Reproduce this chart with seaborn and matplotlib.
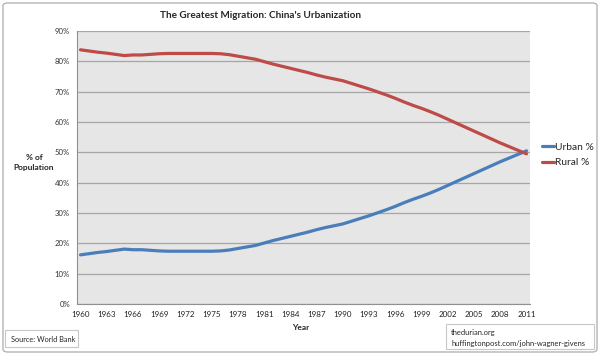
import pandas as pd
import numpy as np
import seaborn as sns
import matplotlib.pyplot as plt
from matplotlib.patches import FancyBboxPatch

# data (World Bank, China)
years = list(range(1960, 2012))
urban = [16.2, 16.6, 17.0, 17.3, 17.7, 18.1, 17.9, 17.9, 17.7, 17.5,
         17.4, 17.4, 17.4, 17.4, 17.4, 17.4, 17.5, 17.8, 18.3, 18.8,
         19.3, 20.1, 20.9, 21.6, 22.3, 23.0, 23.7, 24.5, 25.2, 25.8,
         26.4, 27.3, 28.2, 29.1, 30.1, 31.1, 32.2, 33.4, 34.5, 35.5,
         36.6, 37.8, 39.1, 40.4, 41.7, 43.0, 44.3, 45.6, 46.9, 48.1,
         49.3, 50.5]
rural = [83.8, 83.4, 83.0, 82.7, 82.3, 81.9, 82.1, 82.1, 82.3, 82.5,
         82.6, 82.6, 82.6, 82.6, 82.6, 82.6, 82.5, 82.2, 81.7, 81.2,
         80.7, 79.9, 79.1, 78.4, 77.7, 77.0, 76.3, 75.5, 74.8, 74.2,
         73.6, 72.7, 71.8, 70.9, 69.9, 68.9, 67.8, 66.6, 65.5, 64.5,
         63.4, 62.2, 60.9, 59.6, 58.3, 57.0, 55.7, 54.4, 53.1, 51.9,
         50.7, 49.5]
series_names = ['Urban %', 'Rural %']
series_colors = ['#4a7ebb', '#be4b48']
y_ticks = [0, 10, 20, 30, 40, 50, 60, 70, 80, 90]
x_labels = [y for y in years if (y - 1960) % 3 == 0]

sns.set_theme(style='white')
plt.rcParams['font.family'] = ['Lato', 'DejaVu Sans']

df = pd.DataFrame({'Year': years * 2,
                   'Value': urban + rural,
                   'Series': [series_names[0]] * len(years) + [series_names[1]] * len(years)})

W, H = 600, 355
fig = plt.figure(figsize=(6, 3.55), dpi=100)
ax = fig.add_axes([77 / W, 1 - 304 / H, (530 - 77) / W, (304 - 31) / H])
ax.set_facecolor('#e6e6e6')

sns.lineplot(data=df, x='Year', y='Value', hue='Series', hue_order=series_names,
             palette=dict(zip(series_names, series_colors)), linewidth=2.3,
             ax=ax, legend=True)
for ln in ax.lines:
    ln.set_solid_joinstyle('round')
    ln.set_solid_capstyle('round')

ax.set_xlim(1959.6, 2011.4)
ax.set_ylim(0, 90)
ax.set_yticks(y_ticks)
ax.set_yticklabels([f'{v}%' for v in y_ticks], fontsize=5.6, color='#333333')
ax.set_xticks(years)
ax.set_xticklabels([str(y) if y in x_labels else '' for y in years], fontsize=5.8, color='#222222')
ax.tick_params(axis='both', direction='out', length=3, width=0.7, color='#909090', pad=2)
ax.yaxis.grid(True, color='#a6a6a6', linewidth=0.9)
ax.set_axisbelow(True)
for side in ['top', 'right']:
    ax.spines[side].set_visible(False)
for side in ['left', 'bottom']:
    ax.spines[side].set_color('#909090')
    ax.spines[side].set_linewidth(0.8)
ax.set_xlabel('')
ax.set_ylabel('')

sns.move_legend(ax, loc='center left', bbox_to_anchor=(533 / W, 1 - 155 / H),
                bbox_transform=fig.transFigure, title=None, frameon=False,
                fontsize=7.4, handlelength=1.1, handletextpad=0.1, labelspacing=0.6)

fig.text(261 / W, 1 - 16 / H, "The Greatest Migration: China's Urbanization",
         ha='center', va='center', fontsize=7.2, fontweight='bold')
fig.text(34 / W, 1 - 162 / H, '% of\nPopulation', ha='center', va='center',
         fontsize=6.0, fontweight='bold', linespacing=1.5)
fig.text(301 / W, 1 - 328 / H, 'Year', ha='center', va='center',
         fontsize=6.0, fontweight='bold')

# source / credit boxes
fig.patches.append(FancyBboxPatch((5 / W, 1 - 347 / H), 73 / W, 17 / H,
                                  boxstyle='square,pad=0', transform=fig.transFigure,
                                  fill=False, edgecolor='#c8c8c8', linewidth=0.8))
fig.text(11 / W, 1 - 339 / H, 'Source: World Bank', ha='left', va='center', fontsize=5.3)
fig.patches.append(FancyBboxPatch((446 / W, 1 - 349 / H), 148 / W, 25 / H,
                                  boxstyle='square,pad=0', transform=fig.transFigure,
                                  fill=False, edgecolor='#c8c8c8', linewidth=0.8))
fig.text(451 / W, 1 - 333 / H, 'thedurian.org', ha='left', va='center', fontsize=5.4)
fig.text(451 / W, 1 - 343.5 / H, 'huffingtonpost.com/john-wagner-givens', ha='left',
         va='center', fontsize=5.4)

# outer frame
fig.patches.append(FancyBboxPatch((3 / W, 3 / H), 594 / W, 349 / H,
                                  boxstyle='round,pad=0,rounding_size=0.008',
                                  transform=fig.transFigure, fill=False,
                                  edgecolor='#b4b4b4', linewidth=1.0))

fig.savefig('out.png', dpi=100)
